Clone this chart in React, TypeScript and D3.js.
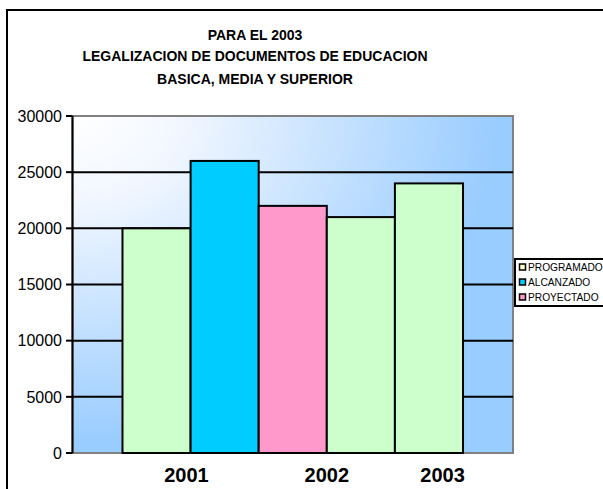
import * as d3 from 'd3';

const titleLines = ['PARA EL 2003', 'LEGALIZACION DE DOCUMENTOS DE EDUCACION', 'BASICA, MEDIA Y SUPERIOR'];
const barSeries = ['PROGRAMADO', 'ALCANZADO', 'PROYECTADO', 'PROGRAMADO', 'PROGRAMADO'];
const barValues = [20000, 26000, 22000, 21000, 24000];
const yearLabels = ['2001', '2002', '2003'];
const seriesNames = ['PROGRAMADO', 'ALCANZADO', 'PROYECTADO'];
const yTicks = [0, 5000, 10000, 15000, 20000, 25000, 30000];

const barFill: Record<string, string> = { PROGRAMADO: '#CCFFCC', ALCANZADO: '#00CCFF', PROYECTADO: '#FF99CC' };
const swatchFill: Record<string, string> = { PROGRAMADO: '#FFFFCC', ALCANZADO: '#00CCFF', PROYECTADO: '#FF99CC' };
// where each year label sits, in bar widths from the first bar's left edge
const yearLabelAt = [0.94, 3.0, 4.7];

const font = 'Arial, "Liberation Sans", sans-serif';

export default function App() {
  const width = 603, height = 489;
  const plot = { left: 72.5, right: 513, top: 116, bottom: 453 };

  const y = d3.scaleLinear().domain([0, 30000]).range([plot.bottom, plot.top]);
  const x = d3.scaleBand<number>()
    .domain(barValues.map((_, i) => i))
    .range([plot.left, plot.right])
    .paddingInner(0)
    .paddingOuter(0.734);
  const x0 = x(0) as number;
  const bw = x.bandwidth();

  return (
    <div style={{ position: 'fixed', left: 0, top: 0 }}>
      <svg width={width} height={height} style={{ display: 'block', background: '#fff' }}>
        <defs>
          <radialGradient id="bg" cx="0" cy="0" r="0.97" fx="0" fy="0">
            <stop offset="0" stopColor="#FFFFFF" />
            <stop offset="0.25" stopColor="#F2F7FF" />
            <stop offset="1" stopColor="#99CCFF" />
          </radialGradient>
        </defs>

        {/* outer chart border */}
        <rect x={7} y={10} width={700} height={600} fill="#fff" stroke="#000" strokeWidth={2} />

        {titleLines.map((t, i) => (
          <text key={t} x={255} y={[40, 61, 84][i]} textAnchor="middle" fontFamily={font} fontWeight="bold" fontSize={14}>
            {t}
          </text>
        ))}

        {/* plot area */}
        <rect x={plot.left} y={plot.top} width={plot.right - plot.left} height={plot.bottom - plot.top} fill="url(#bg)" stroke="#808080" strokeWidth={2} />

        {yTicks.filter((t) => t > 0 && t < 30000).map((t) => (
          <line key={t} x1={plot.left} x2={plot.right} y1={y(t)} y2={y(t)} stroke="#000" strokeWidth={2} />
        ))}

        {barValues.map((v, i) => (
          <rect key={i} x={x(i)} y={y(v)} width={bw} height={y(0) - y(v)} fill={barFill[barSeries[i]]} stroke="#000" strokeWidth={2} />
        ))}

        {/* value axis */}
        <line x1={plot.left} x2={plot.left} y1={plot.top} y2={plot.bottom} stroke="#000" strokeWidth={2} />
        {yTicks.map((t) => (
          <g key={t}>
            <line x1={plot.left - 6.5} x2={plot.left} y1={y(t)} y2={y(t)} stroke="#000" strokeWidth={2} />
            <text x={62} y={y(t)} dy="0.36em" textAnchor="end" fontFamily={font} fontSize={16}>
              {t}
            </text>
          </g>
        ))}

        {yearLabels.map((t, i) => (
          <text key={t} x={x0 + yearLabelAt[i] * bw} y={482} textAnchor="middle" fontFamily={font} fontWeight="bold" fontSize={20}>
            {t}
          </text>
        ))}

        {/* legend */}
        <rect x={515} y={259} width={120} height={47} fill="#fff" stroke="#000" strokeWidth={2} />
        {seriesNames.map((s, i) => (
          <g key={s} transform={`translate(0,${267 + i * 15})`}>
            <rect x={519.5} y={-3} width={6} height={6} fill={swatchFill[s]} stroke="#000" strokeWidth={1.5} />
            <text x={528} y={0} dy="0.36em" fontFamily={font} fontSize={10.2}>
              {s}
            </text>
          </g>
        ))}
      </svg>
    </div>
  );
}
